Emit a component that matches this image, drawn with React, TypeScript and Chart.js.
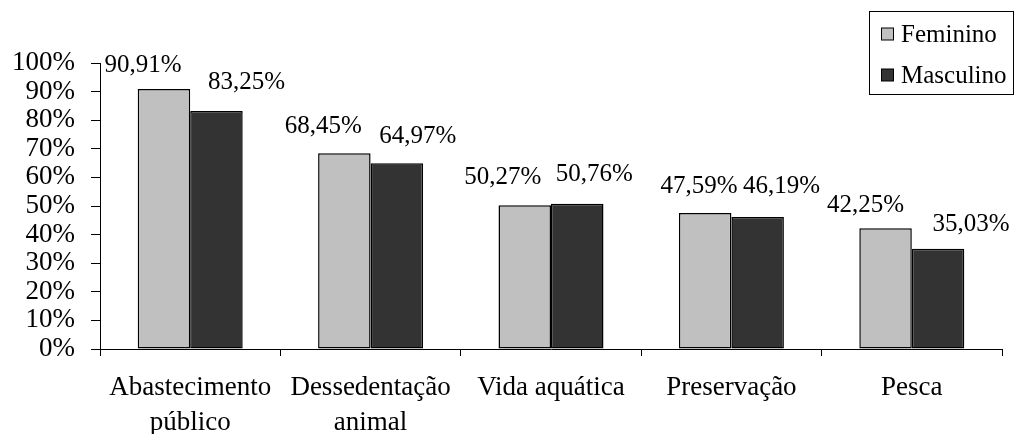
import React, { useEffect, useRef } from "react";
import { Chart, registerables } from "chart.js";

Chart.register(...registerables);

const categories: (string | string[])[] = [
  ["Abastecimento", "público"],
  ["Dessedentação", "animal"],
  "Vida aquática",
  "Preservação",
  "Pesca",
];
const feminino = [90.91, 68.45, 50.27, 47.59, 42.25];
const masculino = [83.25, 64.97, 50.76, 46.19, 35.03];
const seriesNames = ["Feminino", "Masculino"];
const seriesColors = ["#c0c0c0", "#333333"];
const yTicks = [0, 10, 20, 30, 40, 50, 60, 70, 80, 90, 100];

// label placement relative to bar top-center (styling, not data)
const labelDx = [
  [-21, -21, -22, -6, -20],
  [30, 21, 17, 24, 33],
];
const labelDy = [
  [-24, -27, -28, -26, -23],
  [-28, -27, -29, -30, -24],
];

const FONT = "'Liberation Serif', 'Times New Roman', serif";

const fmt = (v: number) => v.toFixed(2).replace(".", ",") + "%";

const labelPlugin = {
  id: "barLabels",
  afterDatasetsDraw(chart: any) {
    const ctx = chart.ctx;
    ctx.save();
    ctx.font = `25px ${FONT}`;
    ctx.fillStyle = "#000";
    ctx.textAlign = "center";
    ctx.textBaseline = "middle";
    chart.data.datasets.forEach((ds: any, di: number) => {
      const meta = chart.getDatasetMeta(di);
      meta.data.forEach((bar: any, i: number) => {
        ctx.fillText(fmt(ds.data[i]), bar.x + labelDx[di][i], bar.y + labelDy[di][i]);
      });
    });
    ctx.restore();
  },
};

const legendPlugin = {
  id: "boxLegend",
  afterDraw(chart: any) {
    const ctx = chart.ctx;
    ctx.save();
    ctx.strokeStyle = "#000";
    ctx.lineWidth = 1;
    ctx.strokeRect(869.5, 11.5, 144, 83);
    ctx.font = `25px ${FONT}`;
    ctx.textBaseline = "middle";
    ctx.textAlign = "left";
    seriesNames.forEach((name, i) => {
      const y = 34 + i * 41;
      ctx.fillStyle = seriesColors[i];
      ctx.fillRect(881.5, y - 6, 12, 12);
      ctx.strokeRect(881.5, y - 6, 12, 12);
      ctx.fillStyle = "#000";
      ctx.fillText(name, 901, y + 1);
    });
    ctx.restore();
  },
};

export default function App() {
  const ref = useRef<HTMLCanvasElement | null>(null);
  useEffect(() => {
    if (!ref.current) return;
    const chart = new Chart(ref.current, {
      type: "bar",
      data: {
        labels: categories,
        datasets: [
          {
            label: seriesNames[0],
            data: feminino,
            backgroundColor: seriesColors[0],
            borderColor: "#000",
            borderWidth: 1.5,
            borderSkipped: false,
          },
          {
            label: seriesNames[1],
            data: masculino,
            backgroundColor: seriesColors[1],
            borderColor: "#000",
            borderWidth: 1.5,
            borderSkipped: false,
          },
        ],
      },
      options: {
        responsive: false,
        animation: false,
        layout: { padding: { top: 63, right: 13, left: 0, bottom: 0 } },
        datasets: { bar: { categoryPercentage: 0.582, barPercentage: 1 } },
        plugins: { legend: { display: false }, tooltip: { enabled: false } },
        scales: {
          x: {
            offset: true,
            grid: {
              display: true,
              drawOnChartArea: false,
              drawTicks: true,
              tickLength: 7,
              color: "#000",
              offset: true,
            },
            border: { display: true, color: "#000", width: 1 },
            ticks: {
              color: "#000",
              font: { family: FONT, size: 27, lineHeight: 1.3 },
              padding: 14,
              maxRotation: 0,
              autoSkip: false,
            },
            afterFit: (s: any) => {
              s.height = 85;
            },
          },
          y: {
            min: 0,
            max: 100,
            afterBuildTicks: (s: any) => {
              s.ticks = yTicks.map((v) => ({ value: v }));
            },
            grid: {
              display: true,
              drawOnChartArea: false,
              drawTicks: true,
              tickLength: 9,
              color: "#000",
            },
            border: { display: true, color: "#000", width: 1 },
            ticks: {
              color: "#000",
              font: { family: FONT, size: 27, lineHeight: 1 },
              padding: 16,
              autoSkip: false,
              callback: (v: any) => v + "%",
            },
            afterFit: (s: any) => {
              s.width = 100;
            },
          },
        },
      },
      plugins: [labelPlugin, legendPlugin],
    });
    return () => chart.destroy();
  }, []);
  return (
    <div style={{ position: "fixed", left: 0, top: 0, width: 1015, height: 434, background: "#fff" }}>
      <canvas ref={ref} width={1015} height={434} style={{ display: "block" }} />
    </div>
  );
}
